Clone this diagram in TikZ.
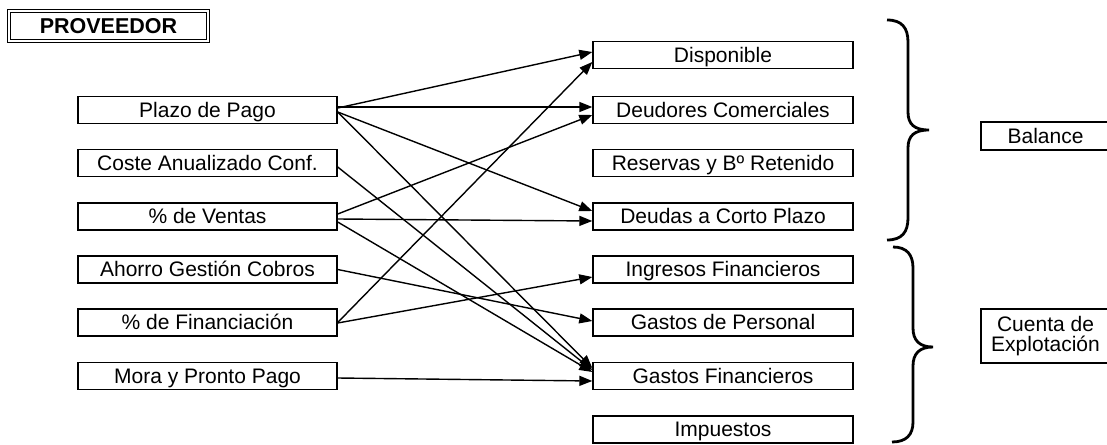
\documentclass[tikz,border=0pt]{standalone}
\usepackage{fontspec}
\setmainfont{Liberation Sans}
\usetikzlibrary{arrows.meta}
\begin{document}
\begin{tikzpicture}[x=1pt,y=-1pt,
  box/.style={draw, line width=1.4pt, minimum width=259pt, minimum height=27pt, inner sep=0pt,
    font=\fontsize{21}{24}\selectfont, text height=15pt, text depth=0.5pt},
  conn/.style={line width=1.4pt, -{Triangle[length=13pt,width=10pt]}},
  brace/.style={line width=2.8pt}]
\useasboundingbox (0,0) rectangle (1107,444);
\clip (0,0) rectangle (1107,444);

\node[draw, line width=1.2pt, double, double distance=1.8pt, minimum width=199pt, minimum height=30pt,
  inner sep=0pt, font=\fontsize{21.5}{24}\selectfont\bfseries, text height=15pt, text depth=0.5pt]
  (prov) at (108.5,26) {PROVEEDOR};

% left boxes
\node[box] (plazo)  at (207.5,110)   {Plazo de Pago};
\node[box] (coste)  at (207.5,163)   {Coste Anualizado Conf.};
\node[box] (ventas) at (207.5,216.5) {\% de Ventas};
\node[box] (ahorro) at (207.5,269.5) {Ahorro Gestión Cobros};
\node[box] (fin)    at (207.5,322.5) {\% de Financiación};
\node[box] (mora)   at (207.5,376)   {Mora y Pronto Pago};

% right boxes
\node[box, minimum width=260pt] (disp)   at (723,55)    {Disponible};
\node[box, minimum width=260pt] (deud)   at (723,110)   {Deudores Comerciales};
\node[box, minimum width=260pt] (res)    at (723,163)   {Reservas y Bº Retenido};
\node[box, minimum width=260pt] (deudas) at (723,216.5) {Deudas a Corto Plazo};
\node[box, minimum width=260pt] (ing)    at (723,269.5) {Ingresos Financieros};
\node[box, minimum width=260pt] (gper)   at (723,322.5) {Gastos de Personal};
\node[box, minimum width=260pt] (gf)     at (723,376)   {Gastos Financieros};
\node[box, minimum width=260pt] (imp)    at (723,429.5) {Impuestos};

% far right boxes
\node[box, minimum width=129pt, minimum height=28pt] (bal) at (1045.5,136) {Balance};
\node[draw, line width=1.4pt, minimum width=129pt, minimum height=54pt, inner sep=0pt, align=center,
  font=\fontsize{21}{19.5}\selectfont] (cta) at (1045.5,336) {Cuenta de\\Explotación};

% connectors
\draw[conn] ([yshift=2pt]plazo.east) -- ([yshift=3pt]disp.west);
\draw[conn] ([yshift=3pt]plazo.east) -- ([yshift=3pt]deud.west);
\draw[conn] ([yshift=-2pt]plazo.east) -- ([yshift=5.5pt]deudas.west);
\draw[conn] ([yshift=-2pt]plazo.east) -- ([yshift=8pt]gf.west);
\draw[conn] ([yshift=-4pt]coste.east) -- ([yshift=6pt]gf.west);
\draw[conn] ([yshift=2.5pt]ventas.east) -- ([yshift=-5pt]deud.west);
\draw[conn] ([yshift=-2.5pt]ventas.east) -- ([yshift=-4.5pt]deudas.west);
\draw[conn] ([yshift=-5.5pt]ventas.east) -- ([yshift=4pt]gf.west);
\draw[conn] (ahorro.east) -- ([yshift=1.5pt]gper.west);
\draw[conn] (fin.east) -- ([yshift=-7pt]disp.west);
\draw[conn] ([yshift=-0.5pt]fin.east) -- ([yshift=-7.5pt]ing.west);
\draw[conn] ([yshift=-2pt]mora.east) -- ([yshift=-5pt]gf.west);

% braces
\draw[brace] (887,20) .. controls (902,20) and (908,28) .. (908,42) -- (908,112)
  .. controls (908,124) and (914,130) .. (929,130)
  .. controls (914,130) and (908,136) .. (908,148) -- (908,218)
  .. controls (908,232) and (902,240) .. (887,240);
\draw[brace] (893,247) .. controls (907,247) and (913,255) .. (913,268) -- (913,328)
  .. controls (913,340) and (919,347) .. (933,347)
  .. controls (919,347) and (913,354) .. (913,366) -- (913,422)
  .. controls (913,435) and (906,442) .. (892,442);
\end{tikzpicture}
\end{document}
